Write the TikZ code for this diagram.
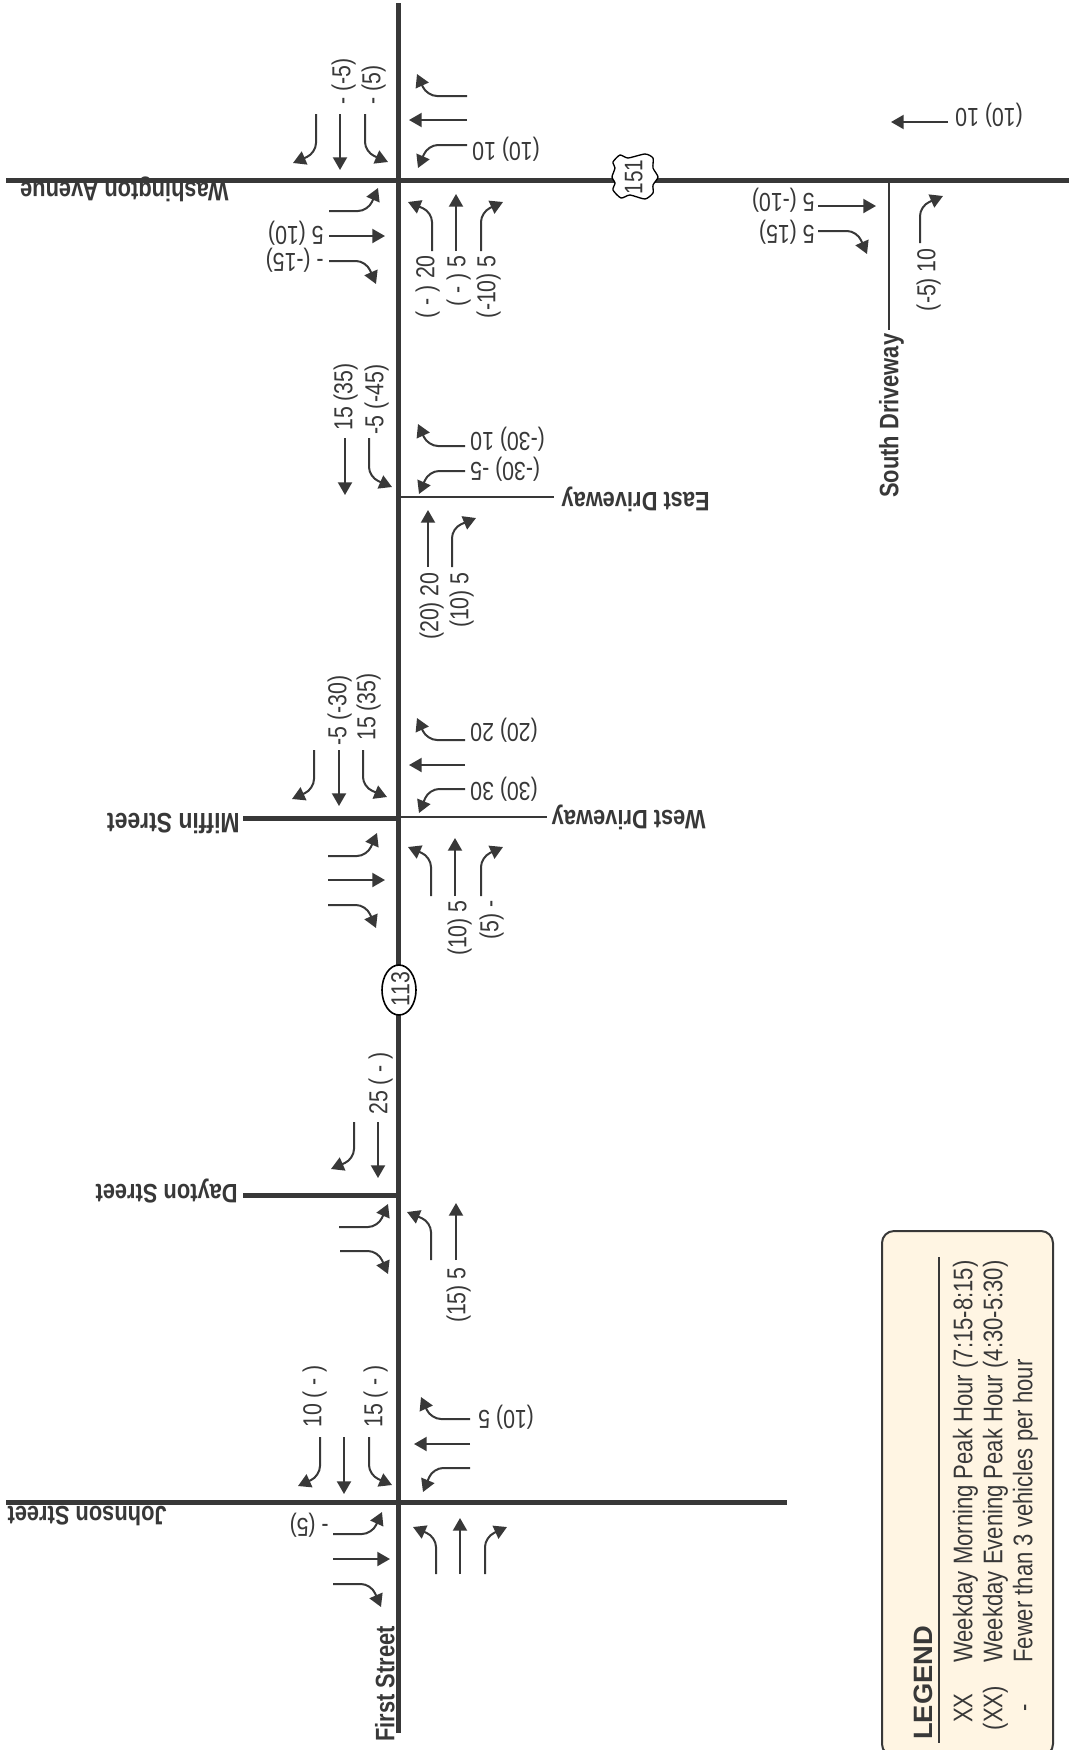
\documentclass[tikz,border=0pt]{standalone}
\usepackage{fontspec}
\usetikzlibrary{arrows.meta}
\setmainfont{Liberation Sans}
\newfontfamily\narrowsans[FakeStretch=0.82]{Liberation Sans}
\newfontfamily\widesans[FakeStretch=1.03]{Liberation Sans}
\definecolor{roadgray}{HTML}{383838}
\definecolor{legendfill}{HTML}{FFF5E3}
\tikzset{
    road/.style={line width=3.75pt, draw=roadgray, line cap=butt},
    driveway/.style={line width=2pt, draw=roadgray},
    flow/.style={line width=1.5pt, draw=roadgray, rounded corners=7.5pt, -{Triangle[length=9.5pt, width=10.5pt]}},
    count/.style={font=\narrowsans\fontsize{19.5}{23}\selectfont, inner sep=0pt, text height=14pt, text depth=0pt, text=roadgray},
    countup/.style={count, rotate=90},
    countflip/.style={count, rotate=180},
    legendline/.style={countup, font=\narrowsans\fontsize{20.2}{24}\selectfont},
    roadname/.style={count, font=\narrowsans\bfseries\fontsize{20}{24}\selectfont},
}
\begin{document}
\begin{tikzpicture}[x=0.75pt, y=-0.75pt]
    \useasboundingbox (0,0) rectangle (1069,1750);
    \clip (0,0) rectangle (1069,1750);

    % Legend box, cut off by the lower edge
    \draw[line width=1.5pt, draw=roadgray, fill=legendfill, rounded corners=9pt] (882,1231) rectangle (1053,1756);
    \draw[line width=1.5pt, draw=roadgray] (939,1257) -- (939,1743);
    \node (legendTitle) at (923,1740) [count, rotate=90, anchor=west, font=\widesans\bfseries\fontsize{19.9}{24}\selectfont] {LEGEND};
    \node (legendAm) at (963,1708) [legendline] {XX};
    \node (legendPm) at (993,1708) [legendline] {(XX)};
    \node (legendDash) at (1023,1708) [legendline] {-};
    \node (legendAmText) at (963,1663) [legendline, anchor=west] {Weekday Morning Peak Hour (7:15-8:15)};
    \node (legendPmText) at (993,1663) [legendline, anchor=west] {Weekday Evening Peak Hour (4:30-5:30)};
    \node (legendDashText) at (1023,1663) [legendline, anchor=west] {Fewer than 3 vehicles per hour};

    % Roads
    \draw[road] (398,3) -- (398,1733);
    \draw[road] (6,180) -- (1069,180);
    \draw[road] (243,818) -- (398,818);
    \draw[road] (243,1195) -- (398,1195);
    \draw[road] (6,1502) -- (787,1502);

    % Driveways
    \draw[driveway] (889,180) -- (889,330);
    \draw[driveway] (398,497) -- (554,497);
    \draw[driveway] (398,817) -- (547,817);

    % Road names
    \node (firstSt) at (385,1742) [roadname, rotate=90, anchor=west] {First Street};
    \node (washingtonAve) at (229,192) [roadname, rotate=180, anchor=west] {Washington Avenue};
    \node (southDrive) at (889,498) [roadname, rotate=90, anchor=west] {South Driveway};
    \node (eastDrive) at (710,502) [roadname, rotate=180, anchor=west] {East Driveway};
    \node (westDrive) at (706,820) [roadname, rotate=180, anchor=west] {West Driveway};
    \node (miffinSt) at (240,823) [roadname, rotate=180, anchor=west, font=\narrowsans\bfseries\fontsize{21}{25}\selectfont] {Miffin Street};
    \node (daytonSt) at (238,1194) [roadname, rotate=180, anchor=west] {Dayton Street};
    \node (johnsonSt) at (167,1516) [roadname, rotate=180, anchor=west] {Johnson Street};

    % Route markers
    \draw[line width=1pt, fill=white] plot[smooth cycle, tension=0.4] coordinates {(612,177) (615,168) (613,162) (620,155) (628,158) (645,154) (653,158) (653,168) (658,177) (653,185) (653,193) (645,199) (630,195) (621,198) (613,190) (615,183)};
    \node (route151) at (633,177) [countup, font=\narrowsans\fontsize{19}{23}\selectfont] {151};
    \draw[line width=1.2pt, fill=white] (399,990) ellipse [x radius=17, y radius=25];
    \node (route113) at (400,989) [countup] {113};

    % Washington Avenue
    \draw[flow] (467,96) -- (427,96) -- (417,74);
    \draw[flow] (467,120) -- (409,120);
    \draw[flow] (467,145) -- (428,145) -- (418,168);
    \draw[flow] (432,251) -- (432,212) -- (408,202);
    \draw[flow] (456,251) -- (456,194);
    \draw[flow] (481,251) -- (481,212) -- (503,202);
    \draw[flow] (316,114) -- (316,153) -- (293,163);
    \draw[flow] (340,114) -- (340,170);
    \draw[flow] (365,114) -- (365,152) -- (388,162);
    \draw[flow] (329,211) -- (368,211) -- (378,188);
    \draw[flow] (329,236) -- (385,236);
    \draw[flow] (329,261) -- (366,261) -- (376,284);
    \node (washE) at (472,152) [countflip, anchor=east] {(10) 10};
    \node (washSa) at (425,255) [countup, anchor=east] {( - ) 20};
    \node (washSb) at (456,255) [countup, anchor=east] {( - ) 5};
    \node (washSc) at (486,255) [countup, anchor=east] {(-10) 5};
    \node (washNa) at (341,105) [countup, anchor=west] {- (-5)};
    \node (washNb) at (371,105) [countup, anchor=west] {- (5)};
    \node (washWa) at (324,236) [countflip, anchor=west] {5 (10)};
    \node (washWb) at (324,263) [countflip, anchor=west] {- (-15)};

    % South Driveway
    \draw[flow] (948,122) -- (891,122);
    \draw[flow] (818,206) -- (876,206);
    \draw[flow] (818,231) -- (857,231) -- (867,254);
    \draw[flow] (920,243) -- (920,206) -- (943,196);
    \node (southE) at (955,118) [countflip, anchor=east] {(10) 10};
    \node (southWa) at (815,203) [countflip, anchor=west] {5 (-10)};
    \node (southWb) at (815,235) [countflip, anchor=west] {5 (15)};
    \node (southS) at (926,248) [countup, anchor=east] {(-5) 10};

    % East Driveway
    \draw[flow] (345,438) -- (345,495);
    \draw[flow] (369,438) -- (369,477) -- (392,487);
    \draw[flow] (465,446) -- (428,446) -- (418,424);
    \draw[flow] (465,471) -- (429,471) -- (419,494);
    \draw[flow] (428,567) -- (428,510);
    \draw[flow] (452,567) -- (452,528) -- (476,518);
    \node (eastNa) at (343,431) [countup, anchor=west] {15 (35)};
    \node (eastNb) at (374,435) [countup, anchor=west] {-5 (-45)};
    \node (eastEa) at (470,442) [countflip, anchor=east] {(-30) 10};
    \node (eastEb) at (470,472) [countflip, anchor=east] {(-30) -5};
    \node (eastSa) at (429,572) [countup, anchor=east] {(20) 20};
    \node (eastSb) at (459,572) [countup, anchor=east] {(10) 5};

    % Miffin Street
    \draw[flow] (314,750) -- (314,789) -- (292,799);
    \draw[flow] (339,750) -- (339,806);
    \draw[flow] (363,750) -- (363,787) -- (387,797);
    \draw[flow] (465,740) -- (427,740) -- (417,718);
    \draw[flow] (465,765) -- (409,765);
    \draw[flow] (465,789) -- (429,789) -- (419,813);
    \draw[flow] (328,856) -- (367,856) -- (377,833);
    \draw[flow] (328,880) -- (385,880);
    \draw[flow] (328,905) -- (366,905) -- (376,928);
    \draw[flow] (431,896) -- (431,857) -- (408,847);
    \draw[flow] (455,896) -- (455,838);
    \draw[flow] (481,896) -- (481,857) -- (503,847);
    \node (miffinNa) at (337,746) [countup, anchor=west] {-5 (-30)};
    \node (miffinNb) at (366,741) [countup, anchor=west] {15 (35)};
    \node (miffinEa) at (470,733) [countflip, anchor=east] {(20) 20};
    \node (miffinEb) at (470,792) [countflip, anchor=east] {(30) 30};
    \node (miffinSa) at (457,900) [countup, anchor=east] {(10) 5};
    \node (miffinSb) at (489,900) [countup, anchor=east] {(5) -};

    % Dayton Street
    \draw[flow] (354,1122) -- (354,1159) -- (331,1169);
    \draw[flow] (378,1122) -- (378,1178);
    \draw[flow] (339,1227) -- (378,1227) -- (388,1204);
    \draw[flow] (340,1251) -- (378,1251) -- (388,1274);
    \draw[flow] (431,1260) -- (431,1222) -- (407,1212);
    \draw[flow] (456,1260) -- (456,1203);
    \node (daytonN) at (378,1115) [countup, anchor=west] {25 ( - )};
    \node (daytonS) at (456,1267) [countup, anchor=east] {(15) 5};

    % Johnson Street
    \draw[flow] (320,1437) -- (320,1476) -- (298,1486);
    \draw[flow] (344,1437) -- (344,1494);
    \draw[flow] (369,1437) -- (369,1475) -- (392,1485);
    \draw[flow] (470,1419) -- (431,1419) -- (421,1397);
    \draw[flow] (470,1444) -- (414,1444);
    \draw[flow] (470,1468) -- (433,1468) -- (423,1492);
    \draw[flow] (333,1534) -- (372,1534) -- (382,1512);
    \draw[flow] (333,1559) -- (390,1559);
    \draw[flow] (333,1584) -- (371,1584) -- (381,1607);
    \draw[flow] (436,1574) -- (436,1537) -- (413,1527);
    \draw[flow] (460,1574) -- (460,1518);
    \draw[flow] (485,1574) -- (485,1537) -- (507,1527);
    \node (johnsonNa) at (312,1428) [countup, anchor=west] {10 ( - )};
    \node (johnsonNb) at (373,1428) [countup, anchor=west] {15 ( - )};
    \node (johnsonE) at (478,1420) [countflip, anchor=east] {(10) 5};
    \node (johnsonW) at (329,1528) [countflip, anchor=west] {- (5)};
\end{tikzpicture}
\end{document}
